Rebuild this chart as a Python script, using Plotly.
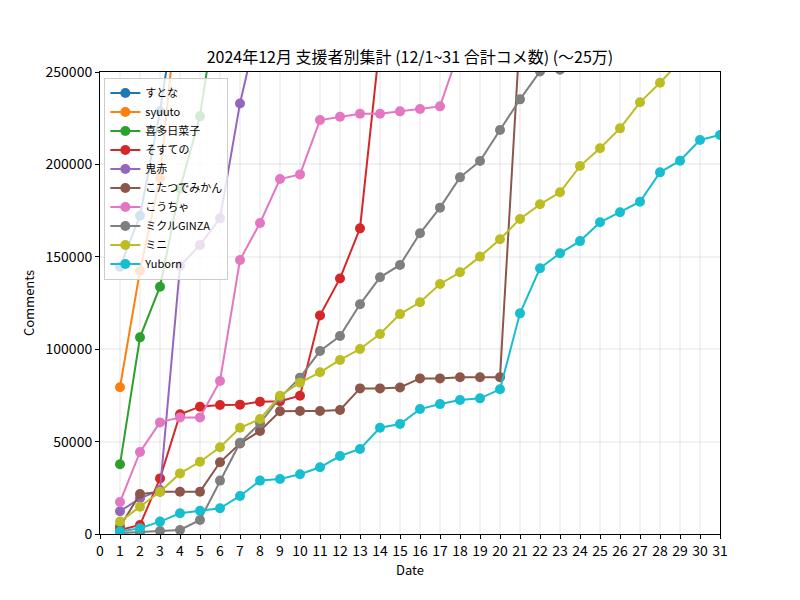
import plotly.graph_objects as go

names = ["すとな", "syuuto", "喜多日菜子", "そすての", "鬼赤", "こたつでみかん",
         "こうちゃ", "ミクルGINZA", "ミニ", "Yuborn"]
colors = ["#1f77b4", "#ff7f0e", "#2ca02c", "#d62728", "#9467bd",
          "#8c564b", "#e377c2", "#7f7f7f", "#bcbd22", "#17becf"]

sutona = [144600, 172200, 228700, 299000]
syuuto = [79400, 142500, 192600, 300000]
kita = [37700, 106400, 133800, 187000, 226000, 297600]
sosuteno = [2200, 4900, 30100, 64800, 68900, 69800, 70000, 71600, 71800, 74800,
            118300, 138300, 165400, 266700]
onigami = [12300, 19300, 23800, 145000, 156400, 170800, 233000, 280000]
kotatsu = [4000, 21600, 22900, 22900, 22900, 38800, 49000, 55700, 66400, 66600,
           66600, 67100, 78800, 78800, 79300, 84200, 84200, 84800, 84800, 84800,
           271500]
kocha = [17300, 44400, 60400, 63100, 63100, 82800, 148300, 168300, 192100, 194600,
         224000, 225800, 227400, 227400, 228700, 230000, 231400, 263000]
mikuru = [500, 1000, 1600, 2200, 7600, 28900, 49400, 59900, 73800, 84600,
          99000, 107100, 124300, 138900, 145600, 162700, 176600, 193000, 201800, 218600,
          235200, 250300, 251200, 270000]
mini = [6700, 14800, 22900, 32800, 39100, 46900, 57500, 62200, 74800, 81900,
        87500, 94200, 100100, 108200, 119000, 125400, 135300, 141600, 150100, 159500,
        170500, 178400, 184900, 199100, 208700, 219500, 233600, 244200, 255800]
yuborn = [1300, 3100, 6700, 11200, 12600, 13900, 20600, 28900, 29800, 32300,
          36100, 42200, 46000, 57500, 59500, 67600, 70300, 72500, 73400, 78300,
          119400, 143800, 151900, 158500, 168700, 174100, 179800, 195700, 202000, 213200,
          215900]

series = [sutona, syuuto, kita, sosuteno, onigami, kotatsu, kocha, mikuru, mini, yuborn]

FONT = "Noto Sans CJK JP"

fig = go.Figure()
for name, col, vals in zip(names, colors, series):
    days = list(range(1, len(vals) + 1))
    fig.add_trace(go.Scatter(
        x=days, y=vals, name=name, mode="lines+markers",
        line=dict(color=col, width=2),
        marker=dict(color=col, size=10),
        cliponaxis=True,
    ))

axis_common = dict(
    showline=True, linecolor="black", linewidth=1, mirror=True,
    ticks="outside", ticklen=4, tickcolor="black",
    showgrid=True, gridcolor="rgba(0,0,0,0.05)", gridwidth=1.5,
    zeroline=False, tickfont=dict(family=FONT, size=14, color="black"),
)

fig.update_layout(
    width=800, height=600,
    paper_bgcolor="white", plot_bgcolor="white",
    margin=dict(l=100, r=80, t=72, b=66),
    title=dict(text="2024年12月 支援者別集計 (12/1~31 合計コメ数) (〜25万)",
               x=0.5, xanchor="center", xref="paper", y=1 - 57 / 600, yanchor="middle",
               font=dict(family=FONT, size=16, color="black")),
    xaxis=dict(range=[0, 31], dtick=1, tick0=0,
               title=dict(text="Date", font=dict(family=FONT, size=13, color="black"), standoff=6),
               **axis_common),
    yaxis=dict(range=[0, 250000], dtick=50000, tick0=0, tickformat="d",
               title=dict(text="Comments", font=dict(family=FONT, size=13, color="black"), standoff=8),
               **axis_common),
    legend=dict(x=0.007, y=0.988, xanchor="left", yanchor="top",
                bgcolor="rgba(255,255,255,0.8)", bordercolor="#cccccc", borderwidth=1,
                font=dict(family=FONT, size=11, color="black"),
                itemwidth=30, tracegroupgap=0),
    showlegend=True,
)

fig.write_html("out.html")
